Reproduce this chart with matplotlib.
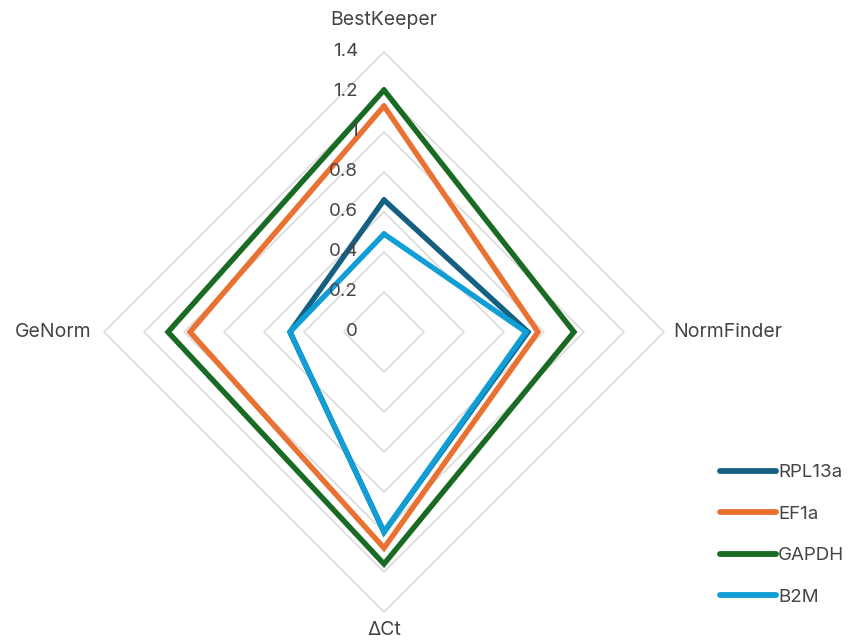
import numpy as np
import matplotlib
matplotlib.use("Agg")
import matplotlib.pyplot as plt

categories = ["BestKeeper", "NormFinder", "\u0394Ct", "GeNorm"]
genes = ["RPL13a", "EF1a", "GAPDH", "B2M"]
rpl13a = [0.66, 0.72, 1.00, 0.47]
ef1a = [1.13, 0.77, 1.08, 0.97]
gapdh = [1.21, 0.95, 1.16, 1.08]
b2m = [0.49, 0.71, 1.00, 0.47]
ticks = [0, 0.2, 0.4, 0.6, 0.8, 1.0, 1.2, 1.4]

colors = ["#156082", "#E97132", "#196B24", "#0F9ED5"]
text_color = "#444444"
plt.rcParams["font.family"] = ["Inter", "DejaVu Sans"]

# spokes go clockwise starting at the top
angles = np.pi / 2 - np.arange(len(categories)) * 2 * np.pi / len(categories)
cos_a, sin_a = np.cos(angles), np.sin(angles)


def to_xy(values):
    r = np.asarray(values, dtype=float)
    x = np.append(r * cos_a, r[0] * cos_a[0])
    y = np.append(r * sin_a, r[0] * sin_a[0])
    return x, y


fig = plt.figure(figsize=(8.5, 6.43), dpi=100)
ax = fig.add_axes([0, 0, 1, 1])
ax.set_xlim(-1.92, 2.33)
ax.set_ylim(-1.555, 1.66)
ax.axis("off")

# diamond grid
for t in ticks[1:]:
    gx, gy = to_xy([t] * len(categories))
    ax.plot(gx, gy, color="#D9D9D9", lw=1.1, zorder=1)

for t in ticks:
    ax.text(-0.13, t, f"{t:g}", ha="right", va="center", fontsize=13.5, color=text_color, zorder=5)

for vals, name, c in zip([rpl13a, ef1a, gapdh, b2m], genes, colors):
    sx, sy = to_xy(vals)
    ax.plot(sx, sy, color=c, lw=3.9, label=name, solid_joinstyle="miter",
            solid_capstyle="round", zorder=3)

rmax = ticks[-1]
lab = dict(fontsize=14, color=text_color)
ax.text(0, rmax + 0.16, categories[0], ha="center", va="center", **lab)
ax.text(rmax + 0.045, 0, categories[1], ha="left", va="center", **lab)
ax.text(0, -rmax - 0.09, categories[2], ha="center", va="center", **lab)
ax.text(-rmax - 0.06, 0, categories[3], ha="right", va="center", **lab)

leg = ax.legend(loc="upper left", bbox_to_anchor=(0.847, 0.278), frameon=False, fontsize=13.5,
                handlelength=3.0, handletextpad=0.1, labelspacing=1.3,
                borderpad=0, borderaxespad=0)
for t in leg.get_texts():
    t.set_color(text_color)
for h in leg.legend_handles:
    h.set_linewidth(4.2)

fig.savefig("out.png", dpi=100)
